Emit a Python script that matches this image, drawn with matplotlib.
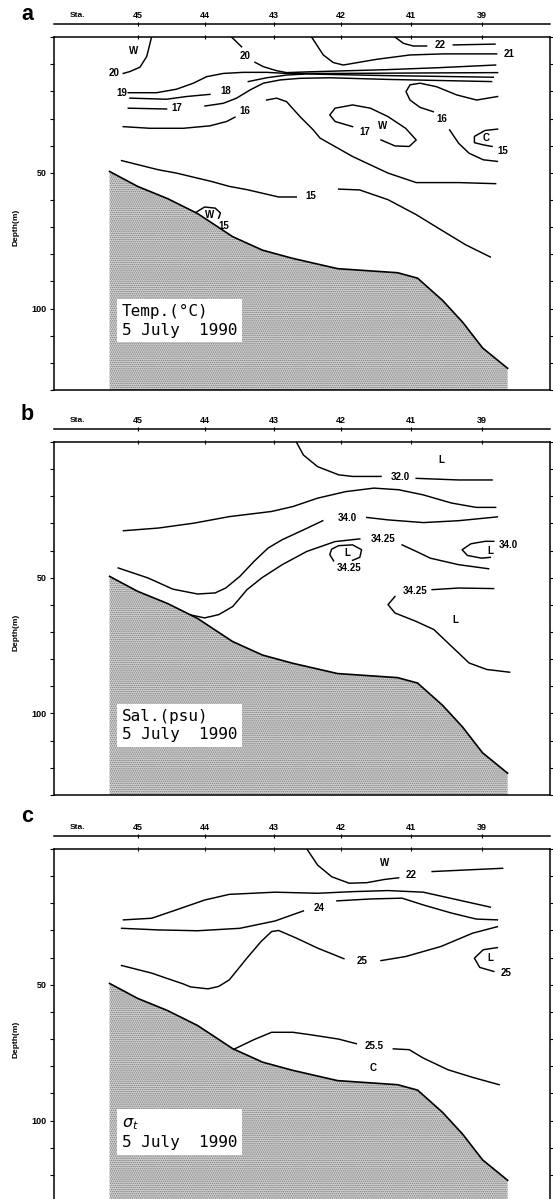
import numpy as np
import matplotlib.pyplot as plt

plt.rcParams['font.family'] = ['Liberation Sans', 'DejaVu Sans']
plt.rcParams['hatch.linewidth'] = 0.7

# stations along the section (distance units, station 45 at 0)
stations = ['45', '44', '43', '42', '41', '39']
sta_x = [0, 67, 136, 203, 273, 344]

depth_ticks = [0, 10, 20, 30, 40, 50, 60, 70, 80, 90, 100, 110, 120, 130]
depth_labels = ['', '', '', '', '', '50', '', '', '', '', '100', '', '', '']

# sea floor
bottom_x = [-28, 0, 30, 60, 95, 125, 155, 200, 260, 280, 305, 325, 345, 370]
bottom_d = [49.5, 55, 59.5, 65, 73.5, 78.5, 81.5, 85.3, 86.8, 88.8, 97, 105, 114.5, 122]

# ---- a: temperature, lines as (x, depth)
temp_20w = [(14, 0), (9.1, 7.2), (2.4, 11.1), (-7.6, 12.7), (-14.3, 13.4)]
temp_20a = [(94, 0), (104, 3.6)]
temp_20b = [(117.4, 9.3), (125.7, 10.9), (139, 12.4), (149, 13.1), (172, 12.8),
            (250, 12.0), (300, 11.3), (358, 10.3)]
temp_19 = [(-9.3, 20.5), (19, 20.5), (39, 19.2), (55.7, 17.0), (69, 14.6), (85.7, 13.4),
           (105.7, 13.0), (129, 13.0), (149, 13.4), (200, 13.4), (300, 13.2), (360, 13.1)]
temp_18a = [(-7.6, 22.5), (29, 22.9), (49, 21.9), (72.4, 21.1)]
temp_18b = [(110.7, 16.4), (129, 15.0), (149, 14.0), (169, 13.6), (250, 14.2), (355.7, 14.8)]
temp_17a = [(-9.3, 26.2), (29, 26.5)]
temp_17b = [(67.4, 25.4), (85.7, 24.4), (99, 22.5), (112.4, 19.5), (125.7, 17.0),
            (142.4, 15.8), (162.4, 15.2), (192.4, 15.0), (250, 15.6), (354, 16.4)]
temp_16 = [(-14.3, 33.0), (12.4, 33.6), (45.7, 33.6), (72.4, 32.7), (89, 31.1), (97.4, 29.5)]
temp_16ra = [(360, 21.9), (339, 23.2), (319, 21.3), (299, 18.3), (282.4, 17.0), (272.4, 17.6),
             (268.4, 20.1), (272.4, 23.2), (282.4, 25.9), (295.7, 27.5)]
temp_16rb = [(312, 34.2), (321, 39.1), (331.5, 42.8), (345.6, 45.2), (359.8, 45.8)]
temp_diag = [(129, 23.2), (139, 22.5), (149, 23.8), (162.4, 29.3), (175.7, 34.2), (182.4, 37.2),
             (215, 44), (250.4, 50.1), (278.6, 53.6), (321, 53.6), (358, 54.0)]
temp_17w = [(243.4, 37.9), (257.4, 40.1), (271.6, 40.3), (278.6, 37.9), (268, 33.6), (250.4, 29.3),
            (232.8, 26.2), (215, 25.0), (197.5, 26.2), (192.2, 28.7), (197.5, 31.1), (215, 33.0)]
temp_15c = [(360, 33.9), (347.4, 34.4), (336.8, 36.6), (336.8, 38.9), (345.6, 39.7), (354.5, 40.3)]
temp_15a = [(-16, 45.5), (21, 48.9), (38.8, 50.1), (74, 53.2), (91.7, 55), (109.4, 56.2),
            (141, 58.9), (158.7, 58.9)]
temp_15b = [(201, 56), (222, 56.3), (250.4, 59.9), (278.6, 65.4), (303.4, 71), (328, 76.5),
            (352.7, 81.0)]
temp_15w = [(58.2, 64.6), (67, 62.6), (77.6, 63.0), (82.9, 64.8), (81, 66.7)]
temp_21 = [(174, 0), (185.7, 6.6), (195.7, 9.4), (205.7, 10.3), (239, 8.2), (272.4, 6.6),
           (305.7, 6.2), (359, 6.2)]
temp_22a = [(257.4, 0), (265.7, 2.3), (275.7, 3.3), (289, 3.3)]
temp_22b = [(315.7, 2.9), (357.4, 2.6)]
temp_lines = [temp_20w, temp_20a, temp_20b, temp_19, temp_18a, temp_18b, temp_17a, temp_17b,
              temp_16, temp_16ra, temp_16rb, temp_diag, temp_17w, temp_15c, temp_15a, temp_15b,
              temp_15w, temp_21, temp_22a, temp_22b]
temp_labels = [('W', -4.3, 5.0), ('20', -24, 13.4), ('20', 107.4, 6.9), ('19', -16, 20.7),
               ('18', 88.4, 19.9), ('17', 39, 26.2), ('16', 107.4, 27.2), ('16', 304, 30.3),
               ('17', 227.5, 34.8), ('W', 245, 32.7), ('C', 349, 37.3), ('15', 365, 41.8),
               ('15', 172.8, 58.5), ('W', 72.3, 65.4), ('15', 86.4, 69.5), ('21', 371, 6.2),
               ('22', 302.4, 2.9)]

# ---- b: salinity
sal_32a = [(158.7, 0), (165.8, 4.8), (180, 9.1), (201, 12.1), (215, 12.7), (243.4, 12.7)]
sal_32b = [(278.6, 13.4), (321, 14.0), (354.5, 14.0)]
sal_33 = [(-14.1, 32.7), (21, 31.7), (56.4, 29.9), (91.7, 27.5), (134, 25.6), (155.2, 23.8),
          (180, 20.7), (208, 18.3), (236.3, 17.0), (261, 17.6), (285.7, 19.5), (313.9, 22.5),
          (338.6, 24.1), (358, 24.1)]
sal_34a = [(359.8, 27.6), (321, 29.0), (285.7, 29.7), (250.4, 28.7), (229.2, 27.8)]
sal_34b = [(185.2, 29.0), (165.8, 32.4), (144.6, 36.0), (130.4, 39.1), (116.4, 44.0), (102.3, 49.5),
           (88.1, 53.8), (77.6, 55.6), (60, 56.0), (35.2, 54.2), (10.5, 50.1), (-19.4, 46.4)]
sal_3425a = [(351, 46.7), (321, 45.2), (292.7, 42.8), (278.6, 40.3), (264.5, 37.9)]
sal_3425b = [(222.2, 35.7), (197.4, 36.7), (169.3, 40.3), (144.6, 45.2), (124.4, 50), (109.4, 54.4),
             (95.2, 60.6), (81.1, 63.6), (67, 64.8), (53, 63.7)]
sal_loop = [(196, 43.8), (192.2, 41.5), (194, 39.5), (201, 38.2), (215, 37.9), (224, 39.7),
            (222.2, 42.5), (215, 43.6)]
sal_34r = [(356.2, 36.6), (347.4, 36.6), (333.3, 37.5), (324.5, 39.7), (329.8, 41.8), (343.9, 42.8),
           (352.7, 42.5)]
sal_3425c = [(356, 54.0), (321, 53.8), (294.5, 54.4)]
sal_3425d = [(257.4, 56.9), (250.4, 59.9), (257.4, 63), (278.6, 66.1), (296.3, 69.1), (314, 75.3),
             (331.5, 81.4), (349.2, 83.8), (372, 84.8)]
sal_lines = [sal_32a, sal_32b, sal_33, sal_34a, sal_34b, sal_3425a, sal_3425b, sal_loop, sal_34r,
             sal_3425c, sal_3425d]
sal_labels = [('L', 303.4, 6.6), ('32.0', 262.8, 13.0), ('34.0', 209.8, 28.1), ('34.25', 245, 35.7),
              ('L', 210, 40.8), ('34.25', 211.6, 46.4), ('L', 352.7, 40.1), ('34.0', 370.4, 37.9),
              ('34.25', 277, 55), ('L', 317.4, 65.4)]

# ---- c: sigma-t
sig_22a = [(169.3, 0), (180, 5.9), (194, 10.2), (211.6, 12.6), (229.2, 12.4), (247, 11.2), (261, 10.6)]
sig_22b = [(294.5, 8.3), (365, 7.1)]
sig_23 = [(-14.1, 26.1), (14.1, 25.5), (38.8, 22.4), (67, 18.8), (91.7, 16.7), (137.5, 15.9),
          (180, 16.3), (215, 15.7), (250.4, 15.3), (285.7, 15.9), (321, 18.8), (352.7, 21.4)]
sig_24a = [(-16, 29.2), (21, 29.8), (60, 30.1), (102.3, 29.2), (137.5, 26.5), (165.8, 22.8)]
sig_24b = [(199.3, 19.1), (232.8, 18.4), (264.5, 18.1), (285.7, 20.6), (314, 23.6), (338.6, 25.8),
           (359.8, 26.1)]
sig_25a = [(359.8, 28.6), (335, 31), (303.3, 35.9), (268, 39.6), (243.4, 41.1)]
sig_25b = [(206.3, 40.4), (180, 36.5), (158.7, 32.8), (141, 30.0), (134, 30.4), (123.4, 34.1),
           (109.3, 40.2), (91.7, 48.2), (81.1, 50.6), (70.5, 51.5), (53, 50.8), (45.8, 49.7),
           (28.2, 47.5), (14.1, 45.7), (-16, 42.9)]
sig_25l = [(359.8, 36.3), (345.6, 37.1), (336.8, 40.2), (342.1, 43.6), (356.2, 45.1)]
sig_255a = [(96, 73.8), (116.4, 70.2), (134, 67.5), (155.2, 67.5), (172.8, 68.4), (201, 70),
            (218.7, 71.7)]
sig_255b = [(255.7, 73.6), (271.6, 73.9), (285.7, 77), (310.4, 81.3), (335, 84.1), (361.5, 86.8)]
sig_lines = [sig_22a, sig_22b, sig_23, sig_24a, sig_24b, sig_25a, sig_25b, sig_25l, sig_255a, sig_255b]
sig_labels = [('W', 247, 5.3), ('22', 273.4, 9.6), ('24', 181.6, 21.6), ('25', 224, 41.1),
              ('L', 352.7, 40.2), ('25', 368.6, 45.7), ('25.5', 236.3, 72.4), ('C', 235.6, 80.6)]

panels = [
    ('a', 0.6747, temp_lines, temp_labels, 'Temp.(°C)\n5 July  1990'),
    ('b', 0.3370, sal_lines, sal_labels, 'Sal.(psu)\n5 July  1990'),
    ('c', -0.0025, sig_lines, sig_labels, '$\\sigma_{t}$\n5 July  1990'),
]
letter_y = [0.9833, 0.6497, 0.3147]

fig = plt.figure(figsize=(5.53, 11.99), dpi=100)

for k, (letter, bot, lines, labels, title) in enumerate(panels):
    ax = fig.add_axes([0.0976, bot, 0.897, 0.2944])
    ax.set_xlim(-83.6, 412.4)
    ax.set_ylim(130, 0)

    # sea floor, stippled
    fx = [bottom_x[0]] + bottom_x + [bottom_x[-1]]
    fd = [130] + bottom_d + [130]
    ax.fill(fx, fd, facecolor='#d2d2d2', edgecolor='#7a7a7a', hatch='........', lw=0, zorder=1)
    ax.plot(bottom_x, bottom_d, color='k', lw=1.2, zorder=3)

    for ln in lines:
        xs, ds = zip(*ln)
        ax.plot(xs, ds, color='k', lw=1.05, solid_joinstyle='round', zorder=3)
    for s, x, d in labels:
        ax.text(x, d, s, ha='center', va='center', fontsize=7, fontweight='bold', zorder=4)

    ax.text(-16, 98.3, title, ha='left', va='top', fontsize=11.5, family='DejaVu Sans Mono',
            linespacing=1.3, zorder=5,
            bbox=dict(boxstyle='square,pad=0.3', facecolor='white', edgecolor='none'))

    # depth axis
    ax.set_yticks(depth_ticks, labels=depth_labels)
    ax.tick_params(axis='y', left=True, right=True, direction='out', length=3, width=0.8,
                   labelsize=6.5, pad=2)
    for t in ax.get_yticklabels():
        t.set_fontweight('bold')
    ax.set_ylabel('Depth(m)', fontsize=6, fontweight='bold')
    ax.yaxis.set_label_coords(-0.07, 0.46)

    # station ticks on the frame
    ax.set_xticks(sta_x)
    ax.tick_params(axis='x', top=True, bottom=False, labeltop=False, labelbottom=False,
                   direction='inout', length=3, width=0.8)
    for sp in ax.spines.values():
        sp.set_linewidth(1.1)

    # station line above the frame
    sec = ax.secondary_xaxis(1.037)
    sec.set_xticks(sta_x, labels=stations)
    sec.tick_params(direction='inout', length=3, width=0.8, pad=1.5, labelsize=6.5)
    for t in sec.get_xticklabels():
        t.set_fontweight('bold')
    sec.spines['top'].set_linewidth(1.1)
    ax.text(-59.6, 1.062, 'Sta.', transform=ax.get_xaxis_transform(), ha='center', va='center',
            fontsize=6, fontweight='bold')

    fig.text(0.038, letter_y[k], letter, ha='left', va='baseline', fontsize=15.5, fontweight='bold')

fig.savefig('out.png', dpi=100)
